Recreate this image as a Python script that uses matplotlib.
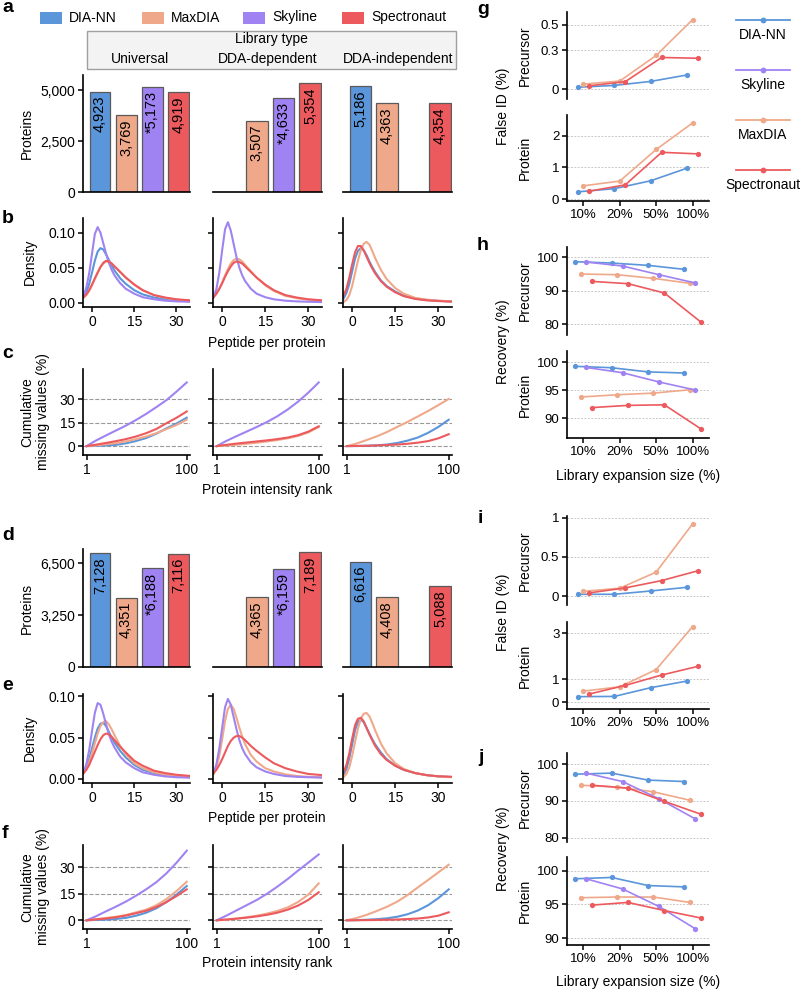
import matplotlib
matplotlib.use("Agg")
import matplotlib.pyplot as plt
from matplotlib.patches import Rectangle
from matplotlib.lines import Line2D
import numpy as np

plt.rcParams['font.family'] = ['Liberation Sans', 'DejaVu Sans']

# ---------------- data ----------------
TOOLS = ['DIA-NN', 'MaxDIA', 'Skyline', 'Spectronaut']
COLORS = {'DIA-NN': '#5B95DA', 'MaxDIA': '#EFA98A', 'Skyline': '#A083F2', 'Spectronaut': '#EC5A5E'}
LIB_TYPES = ['Universal', 'DDA-dependent', 'DDA-independent']
STAR_TOOL = 'Skyline'

# panel a / d: protein counts (None = not available), order = TOOLS
A_UNIVERSAL = [4923, 3769, 5173, 4919]
A_DDA_DEP = [None, 3507, 4633, 5354]
A_DDA_INDEP = [5186, 4363, None, 4354]
D_UNIVERSAL = [7128, 4351, 6188, 7116]
D_DDA_DEP = [None, 4365, 6159, 7189]
D_DDA_INDEP = [6616, 4408, None, 5088]

# panels b / e: density of peptides per protein
DENS_X = [-3, -2, -1, 0, 1, 2, 3, 4, 5, 6, 7, 8, 10, 12, 15, 18, 22, 26, 30, 35]
B_UNIVERSAL = {
    'DIA-NN': [0.008, 0.015, 0.027, 0.043, 0.060, 0.073, 0.078, 0.076, 0.069, 0.061, 0.053, 0.046, 0.035, 0.027, 0.018, 0.012, 0.0075, 0.005, 0.0033, 0.002],
    'MaxDIA': [0.007, 0.011, 0.017, 0.025, 0.034, 0.043, 0.051, 0.056, 0.059, 0.059, 0.056, 0.052, 0.044, 0.036, 0.026, 0.018, 0.011, 0.007, 0.0045, 0.003],
    'Skyline': [0.010, 0.022, 0.042, 0.070, 0.098, 0.108, 0.100, 0.085, 0.070, 0.057, 0.047, 0.039, 0.028, 0.020, 0.013, 0.008, 0.005, 0.003, 0.002, 0.0015],
    'Spectronaut': [0.008, 0.012, 0.018, 0.026, 0.035, 0.043, 0.051, 0.057, 0.060, 0.059, 0.056, 0.052, 0.044, 0.036, 0.026, 0.018, 0.011, 0.0075, 0.005, 0.0035],
}
B_DDA_DEP = {
    'MaxDIA': [0.008, 0.013, 0.020, 0.029, 0.039, 0.048, 0.056, 0.061, 0.063, 0.062, 0.059, 0.054, 0.045, 0.036, 0.025, 0.017, 0.010, 0.0065, 0.0045, 0.003],
    'Skyline': [0.008, 0.020, 0.043, 0.075, 0.105, 0.115, 0.103, 0.084, 0.065, 0.050, 0.039, 0.031, 0.020, 0.013, 0.008, 0.005, 0.003, 0.002, 0.0015, 0.001],
    'Spectronaut': [0.008, 0.013, 0.020, 0.028, 0.037, 0.045, 0.052, 0.057, 0.059, 0.058, 0.056, 0.052, 0.044, 0.036, 0.026, 0.018, 0.011, 0.0075, 0.005, 0.0035],
}
B_DDA_INDEP = {
    'DIA-NN': [0.006, 0.014, 0.027, 0.045, 0.063, 0.074, 0.078, 0.075, 0.068, 0.059, 0.051, 0.044, 0.032, 0.024, 0.016, 0.010, 0.006, 0.004, 0.0028, 0.002],
    'MaxDIA': [0.001, 0.004, 0.011, 0.024, 0.042, 0.060, 0.075, 0.084, 0.087, 0.083, 0.074, 0.064, 0.047, 0.034, 0.021, 0.013, 0.007, 0.0045, 0.003, 0.002],
    'Spectronaut': [0.010, 0.020, 0.036, 0.055, 0.072, 0.081, 0.081, 0.075, 0.066, 0.057, 0.049, 0.042, 0.031, 0.023, 0.015, 0.0095, 0.0055, 0.0035, 0.0025, 0.0015],
}
E_UNIVERSAL = {
    'DIA-NN': [0.008, 0.014, 0.024, 0.037, 0.050, 0.061, 0.067, 0.068, 0.064, 0.057, 0.050, 0.044, 0.034, 0.026, 0.017, 0.011, 0.007, 0.0045, 0.003, 0.002],
    'MaxDIA': [0.007, 0.012, 0.020, 0.031, 0.043, 0.055, 0.064, 0.069, 0.070, 0.066, 0.060, 0.053, 0.040, 0.030, 0.019, 0.013, 0.008, 0.005, 0.0035, 0.0025],
    'Skyline': [0.008, 0.018, 0.035, 0.058, 0.080, 0.092, 0.090, 0.079, 0.066, 0.054, 0.045, 0.038, 0.027, 0.020, 0.013, 0.008, 0.005, 0.003, 0.002, 0.0015],
    'Spectronaut': [0.007, 0.011, 0.017, 0.025, 0.033, 0.041, 0.048, 0.053, 0.055, 0.054, 0.051, 0.047, 0.039, 0.032, 0.022, 0.016, 0.010, 0.007, 0.005, 0.0035],
}
E_DDA_DEP = {
    'MaxDIA': [0.006, 0.014, 0.028, 0.048, 0.070, 0.085, 0.090, 0.085, 0.074, 0.062, 0.051, 0.042, 0.029, 0.021, 0.013, 0.009, 0.0055, 0.0035, 0.0025, 0.002],
    'Skyline': [0.007, 0.018, 0.037, 0.062, 0.087, 0.097, 0.090, 0.075, 0.060, 0.047, 0.037, 0.030, 0.020, 0.014, 0.009, 0.006, 0.0035, 0.0025, 0.002, 0.0015],
    'Spectronaut': [0.007, 0.011, 0.017, 0.024, 0.032, 0.040, 0.046, 0.050, 0.052, 0.052, 0.050, 0.047, 0.040, 0.034, 0.026, 0.019, 0.013, 0.009, 0.006, 0.0045],
}
E_DDA_INDEP = {
    'DIA-NN': [0.005, 0.012, 0.025, 0.042, 0.059, 0.069, 0.072, 0.069, 0.062, 0.055, 0.048, 0.042, 0.032, 0.024, 0.016, 0.011, 0.007, 0.0045, 0.003, 0.0022],
    'MaxDIA': [0.002, 0.006, 0.014, 0.028, 0.045, 0.061, 0.073, 0.079, 0.080, 0.076, 0.068, 0.059, 0.043, 0.031, 0.019, 0.012, 0.007, 0.0045, 0.003, 0.002],
    'Spectronaut': [0.008, 0.017, 0.031, 0.049, 0.065, 0.073, 0.074, 0.070, 0.062, 0.054, 0.047, 0.040, 0.030, 0.023, 0.016, 0.011, 0.007, 0.0045, 0.0032, 0.0025],
}

# panels c / f: cumulative missing values (%) vs protein intensity rank
CUM_X = [1, 10, 20, 30, 40, 50, 60, 70, 80, 90, 100]
C_UNIVERSAL = {
    'DIA-NN': [0, 0.1, 0.4, 0.8, 1.8, 3.3, 5.2, 8.0, 11.4, 14.5, 18.2],
    'MaxDIA': [0, 0.4, 1.2, 1.9, 3.0, 4.5, 6.2, 8.3, 10.9, 13.6, 16.9],
    'Skyline': [0, 3.5, 6.8, 10.0, 13.2, 16.8, 20.7, 25.0, 29.5, 35.0, 40.8],
    'Spectronaut': [0, 0.9, 2.0, 3.2, 4.5, 6.2, 8.3, 11.0, 14.7, 18.2, 22.2],
}
C_DDA_DEP = {
    'MaxDIA': [0, 0.4, 0.9, 1.5, 2.2, 3.0, 3.9, 5.0, 6.5, 8.8, 12.2],
    'Skyline': [0, 3.2, 6.3, 9.3, 12.3, 15.5, 19.2, 23.5, 28.5, 34.3, 40.8],
    'Spectronaut': [0, 0.8, 1.6, 2.3, 3.0, 3.7, 4.5, 5.5, 7.0, 9.3, 12.7],
}
C_DDA_INDEP = {
    'DIA-NN': [0, 0.05, 0.2, 0.5, 1.0, 2.0, 3.5, 5.5, 8.5, 12.3, 16.9],
    'MaxDIA': [0, 1.5, 3.8, 6.2, 9.0, 12.3, 15.5, 19.0, 22.5, 26.3, 30.2],
    'Spectronaut': [0, 0.1, 0.2, 0.4, 0.7, 1.0, 1.5, 2.2, 3.2, 5.0, 7.6],
}
F_UNIVERSAL = {
    'DIA-NN': [0, 0.2, 0.4, 0.75, 1.4, 2.6, 4.3, 6.8, 10.3, 14.5, 19.3],
    'MaxDIA': [0, 0.6, 1.3, 2.0, 3.0, 4.5, 6.0, 8.5, 12.0, 16.5, 21.7],
    'Skyline': [0, 2.2, 5.0, 7.7, 10.6, 13.9, 17.5, 21.5, 26.5, 32.5, 39.2],
    'Spectronaut': [0, 0.5, 1.0, 1.7, 2.7, 4.0, 5.4, 7.5, 10.3, 13.7, 17.4],
}
F_DDA_DEP = {
    'MaxDIA': [0, 0.4, 1.0, 1.7, 2.6, 3.8, 5.3, 7.3, 10.3, 14.5, 20.8],
    'Skyline': [0, 2.5, 5.5, 8.5, 11.5, 15.0, 19.0, 23.3, 28.0, 32.5, 37.1],
    'Spectronaut': [0, 0.4, 0.9, 1.5, 2.2, 3.1, 4.3, 6.0, 8.3, 11.5, 15.8],
}
F_DDA_INDEP = {
    'DIA-NN': [0, 0.1, 0.3, 0.6, 1.1, 2.0, 3.4, 5.5, 8.5, 12.5, 17.4],
    'MaxDIA': [0, 1.2, 3.0, 5.2, 7.6, 10.5, 14.2, 18.5, 22.7, 27.0, 31.3],
    'Spectronaut': [0, 0.05, 0.1, 0.2, 0.3, 0.45, 0.7, 1.0, 1.6, 2.6, 4.5],
}

# panels g-j
EXPANSION = ['10%', '20%', '50%', '100%']
G_PREC = {'DIA-NN': [0.016, 0.030, 0.061, 0.111], 'MaxDIA': [0.040, 0.064, 0.262, 0.539], 'Spectronaut': [0.027, 0.059, 0.246, 0.240]}
G_PROT = {'DIA-NN': [0.23, 0.33, 0.58, 0.98], 'MaxDIA': [0.42, 0.57, 1.57, 2.41], 'Spectronaut': [0.25, 0.45, 1.48, 1.43]}
H_PREC = {'DIA-NN': [98.7, 98.3, 97.6, 96.4], 'MaxDIA': [95.0, 94.8, 93.7, 92.2], 'Skyline': [98.6, 97.4, 94.8, 92.3], 'Spectronaut': [92.8, 92.1, 89.3, 80.6]}
H_PROT = {'DIA-NN': [99.3, 99.05, 98.3, 98.1], 'MaxDIA': [93.8, 94.2, 94.5, 95.1], 'Skyline': [99.1, 98.15, 96.5, 95.05], 'Spectronaut': [91.9, 92.3, 92.4, 88.1]}
I_PREC = {'DIA-NN': [0.026, 0.026, 0.068, 0.115], 'MaxDIA': [0.064, 0.103, 0.308, 0.92], 'Spectronaut': [0.043, 0.107, 0.20, 0.325]}
I_PROT = {'DIA-NN': [0.25, 0.26, 0.64, 0.93], 'MaxDIA': [0.49, 0.68, 1.43, 3.30], 'Spectronaut': [0.36, 0.74, 1.19, 1.57]}
J_PREC = {'DIA-NN': [97.3, 97.6, 95.7, 95.3], 'MaxDIA': [94.3, 93.8, 92.5, 90.2], 'Skyline': [97.6, 95.3, 90.6, 85.1], 'Spectronaut': [94.3, 93.5, 89.9, 86.4]}
J_PROT = {'DIA-NN': [98.8, 99.0, 97.8, 97.6], 'MaxDIA': [96.0, 96.1, 96.1, 95.3], 'Skyline': [98.8, 97.3, 94.7, 91.4], 'Spectronaut': [94.9, 95.3, 94.1, 93.0]}

# ---------------- layout helpers ----------------
W, H = 800, 990
fig = plt.figure(figsize=(8, 9.9), dpi=100)

def add_ax(l, t, r, b):
    return fig.add_axes([l / W, 1 - b / H, (r - l) / W, (b - t) / H])

def fx(x):
    return x / W

def fy(y):
    return 1 - y / H

COLS = [(83, 190), (213, 322), (343, 452)]
TICK_FS = 10
LAB_FS = 10

def style(ax, left=True, bottom=True, left_labels=True):
    for s in ['top', 'right']:
        ax.spines[s].set_visible(False)
    ax.spines['left'].set_visible(left)
    ax.spines['bottom'].set_visible(bottom)
    for s in ['left', 'bottom']:
        ax.spines[s].set_linewidth(1.2)
    ax.tick_params(direction='out', length=3.5, width=1.1, labelsize=TICK_FS, pad=2)
    if not left_labels:
        ax.tick_params(axis='y', labelleft=False)
    if not left:
        ax.tick_params(axis='y', left=False, labelleft=False)

# ---------------- legend top + library box ----------------
leg_x = [40, 142, 243, 342]
for t, x in zip(TOOLS, leg_x):
    fig.add_artist(Rectangle((fx(x), fy(23.5)), 22 / W, 12 / H, transform=fig.transFigure,
                             facecolor=COLORS[t], edgecolor='none'))
    fig.text(fx(x + 29), fy(17.5), t, fontsize=10, va='center', ha='left')

fig.add_artist(Rectangle((fx(87), fy(69)), (456 - 87) / W, (69 - 31) / H, transform=fig.transFigure,
                         facecolor='#F3F3F3', edgecolor='#A0A0A0', lw=1))
fig.text(fx(271), fy(39.5), 'Library type', fontsize=10, ha='center', va='center')
for lt, xc in zip(LIB_TYPES, [140, 268, 398]):
    fig.text(fx(xc), fy(59), lt, fontsize=10, ha='center', va='center')

# ---------------- bar panels ----------------
def bar_row(top, bottom, datasets, ymax, yticks, yticklabels):
    for i, (vals, (l, r)) in enumerate(zip(datasets, COLS)):
        ax = add_ax(l, top, r, bottom)
        style(ax, left=(i == 0))
        for j, (t, v) in enumerate(zip(TOOLS, vals)):
            if v is None:
                continue
            ax.bar(j, v, width=0.8, color=COLORS[t], edgecolor='#5a5a5a', linewidth=0.9)
            lab = ('*' if t == STAR_TOOL else '') + f'{v:,}'
            ax.annotate(lab, xy=(j, v), xytext=(0, -3), textcoords='offset points',
                        rotation=90, ha='center', va='top', fontsize=10.5)
        ax.set_xlim(-0.65, 3.45)
        ax.set_ylim(0, ymax)
        ax.set_xticks([])
        ax.set_yticks(yticks)
        ax.set_yticklabels(yticklabels)

bar_row(75, 192, [A_UNIVERSAL, A_DDA_DEP, A_DDA_INDEP], 5750, [0, 2500, 5000], ['0', '2,500', '5,000'])
bar_row(549, 667, [D_UNIVERSAL, D_DDA_DEP, D_DDA_INDEP], 7400, [0, 3250, 6500], ['0', '3,250', '6,500'])
fig.text(fx(27), fy(133), 'Proteins', rotation=90, fontsize=LAB_FS, ha='center', va='center')
fig.text(fx(27), fy(608), 'Proteins', rotation=90, fontsize=LAB_FS, ha='center', va='center')

# ---------------- density panels ----------------
def dens_row(top, bottom, datasets, ylim, yticks, yticklabels):
    for i, (d, (l, r)) in enumerate(zip(datasets, COLS)):
        ax = add_ax(l, top, r, bottom)
        style(ax, left_labels=(i == 0))
        for t in TOOLS:
            if t in d:
                ax.plot(DENS_X, d[t], color=COLORS[t], lw=1.5)
        ax.set_xlim(-3.2, 34.8)
        ax.set_ylim(*ylim)
        ax.set_xticks([0, 15, 30])
        ax.set_yticks(yticks)
        ax.set_yticklabels(yticklabels)

dens_row(218, 307, [B_UNIVERSAL, B_DDA_DEP, B_DDA_INDEP], (-0.006, 0.121), [0, 0.05, 0.10], ['0.00', '0.05', '0.10'])
dens_row(694, 783, [E_UNIVERSAL, E_DDA_DEP, E_DDA_INDEP], (-0.005, 0.103), [0, 0.05, 0.10], ['0.00', '0.05', '0.10'])
fig.text(fx(30), fy(262), 'Density', rotation=90, fontsize=LAB_FS, ha='center', va='center')
fig.text(fx(30), fy(738), 'Density', rotation=90, fontsize=LAB_FS, ha='center', va='center')
fig.text(fx(267), fy(343), 'Peptide per protein', fontsize=LAB_FS, ha='center', va='center')
fig.text(fx(267), fy(818), 'Peptide per protein', fontsize=LAB_FS, ha='center', va='center')

# ---------------- cumulative missing panels ----------------
def cum_row(top, bottom, datasets, ylim):
    for i, (d, (l, r)) in enumerate(zip(datasets, COLS)):
        ax = add_ax(l, top, r, bottom)
        style(ax, left_labels=(i == 0))
        ax.set_yticks([0, 15, 30])
        ax.yaxis.grid(True, linestyle='--', color='#9a9a9a', lw=0.8)
        ax.set_axisbelow(True)
        for t in TOOLS:
            if t in d:
                ax.plot(CUM_X, d[t], color=COLORS[t], lw=1.5)
        ax.set_xlim(-2.6, 103.2)
        ax.set_ylim(*ylim)
        ax.set_xticks([1, 100])

cum_row(369, 455, [C_UNIVERSAL, C_DDA_DEP, C_DDA_INDEP], (-5.7, 49.4))
cum_row(845, 929, [F_UNIVERSAL, F_DDA_DEP, F_DDA_INDEP], (-4.9, 42.4))
fig.text(fx(35), fy(412), 'Cumulative\nmissing values (%)', rotation=90, fontsize=LAB_FS,
         ha='center', va='center', multialignment='center', linespacing=1.1)
fig.text(fx(35), fy(887), 'Cumulative\nmissing values (%)', rotation=90, fontsize=LAB_FS,
         ha='center', va='center', multialignment='center', linespacing=1.1)
fig.text(fx(267), fy(490), 'Protein intensity rank', fontsize=LAB_FS, ha='center', va='center')
fig.text(fx(267), fy(963), 'Protein intensity rank', fontsize=LAB_FS, ha='center', va='center')

# ---------------- right column ----------------
RL, RR = 567, 709
RT_FS = 9.5

def right_ax(top, bottom, data, ylim, yticks, yticklabels, bottom_axis, name):
    ax = add_ax(RL, top, RR, bottom)
    for s in ['top', 'right']:
        ax.spines[s].set_visible(False)
    ax.spines['bottom'].set_visible(bottom_axis)
    for s in ['left', 'bottom']:
        ax.spines[s].set_linewidth(1.2)
    ax.tick_params(direction='out', length=3.5, width=1.1, labelsize=RT_FS, pad=2)
    tools = [t for t in TOOLS if t in data]
    n = len(tools)
    for k, t in enumerate(tools):
        off = (k - (n - 1) / 2) * 0.15
        xs = np.arange(len(EXPANSION)) + off
        ax.plot(xs, data[t], color=COLORS[t], lw=1.2, marker='o', ms=3.8, mec='none')
    ax.set_xlim(-0.45, 3.45)
    ax.set_ylim(*ylim)
    ax.set_yticks(yticks)
    ax.set_yticklabels(yticklabels)
    ax.yaxis.grid(True, linestyle=(0, (2, 1.5)), color='#c8c8c8', lw=0.7)
    ax.set_axisbelow(True)
    if bottom_axis:
        ax.set_xticks(range(len(EXPANSION)))
        ax.set_xticklabels(EXPANSION)
    else:
        ax.set_xticks([])
    yc = (top + bottom) / 2
    fig.text(fx(525), fy(yc), name, rotation=90, fontsize=LAB_FS, ha='center', va='center')
    return ax

right_ax(11.7, 99, G_PREC, (-0.075, 0.6), [0, 0.3, 0.5], ['0', '0.3', '0.5'], False, 'Precursor')
right_ax(115, 201, G_PROT, (-0.06, 2.66), [0, 1, 2], ['0', '1', '2'], True, 'Protein')
right_ax(246.7, 335, H_PREC, (76.7, 103.2), [80, 90, 100], ['80', '90', '100'], False, 'Precursor')
right_ax(350.7, 438.3, H_PROT, (86.4, 102.1), [90, 95, 100], ['90', '95', '100'], True, 'Protein')
right_ax(516, 605, I_PREC, (-0.11, 1.02), [0, 0.5, 1], ['0', '0.5', '1'], False, 'Precursor')
right_ax(621.7, 709.3, I_PROT, (-0.3, 3.51), [0, 1, 3], ['0', '1', '3'], True, 'Protein')
right_ax(753.3, 841.7, J_PREC, (78.9, 103), [80, 90, 100], ['80', '90', '100'], False, 'Precursor')
right_ax(856.7, 945, J_PROT, (89.0, 102.07), [90, 95, 100], ['90', '95', '100'], True, 'Protein')

fig.text(fx(503), fy(106), 'False ID (%)', rotation=90, fontsize=LAB_FS, ha='center', va='center')
fig.text(fx(503), fy(342), 'Recovery (%)', rotation=90, fontsize=LAB_FS, ha='center', va='center')
fig.text(fx(503), fy(612), 'False ID (%)', rotation=90, fontsize=LAB_FS, ha='center', va='center')
fig.text(fx(503), fy(849), 'Recovery (%)', rotation=90, fontsize=LAB_FS, ha='center', va='center')
fig.text(fx(638), fy(476), 'Library expansion size (%)', fontsize=LAB_FS, ha='center', va='center')
fig.text(fx(638), fy(982), 'Library expansion size (%)', fontsize=LAB_FS, ha='center', va='center')

# right legend
RLEG_ORDER = ['DIA-NN', 'Skyline', 'MaxDIA', 'Spectronaut']
RLEG_Y = [20, 70, 120, 170]
for t, y in zip(RLEG_ORDER, RLEG_Y):
    fig.add_artist(Line2D([fx(736), fx(790)], [fy(y), fy(y)], transform=fig.transFigure,
                          color=COLORS[t], lw=1.3))
    fig.add_artist(Line2D([fx(763)], [fy(y)], transform=fig.transFigure, color=COLORS[t],
                          marker='o', ms=4.2, mec='none', lw=0))
    fig.text(fx(763), fy(y + 15), t, fontsize=10, ha='center', va='center')

# panel letters
LETTERS = [('a', 2, 12.5), ('b', 2, 223), ('c', 2, 358), ('d', 2, 540), ('e', 2, 690), ('f', 2, 838),
           ('g', 477, 13.5), ('h', 477, 250), ('i', 478, 523), ('j', 478, 762)]
for s, x, y in LETTERS:
    fig.text(fx(x), fy(y), s, fontsize=14, fontweight='bold', ha='left', va='baseline')

fig.savefig('out.png', dpi=100)
